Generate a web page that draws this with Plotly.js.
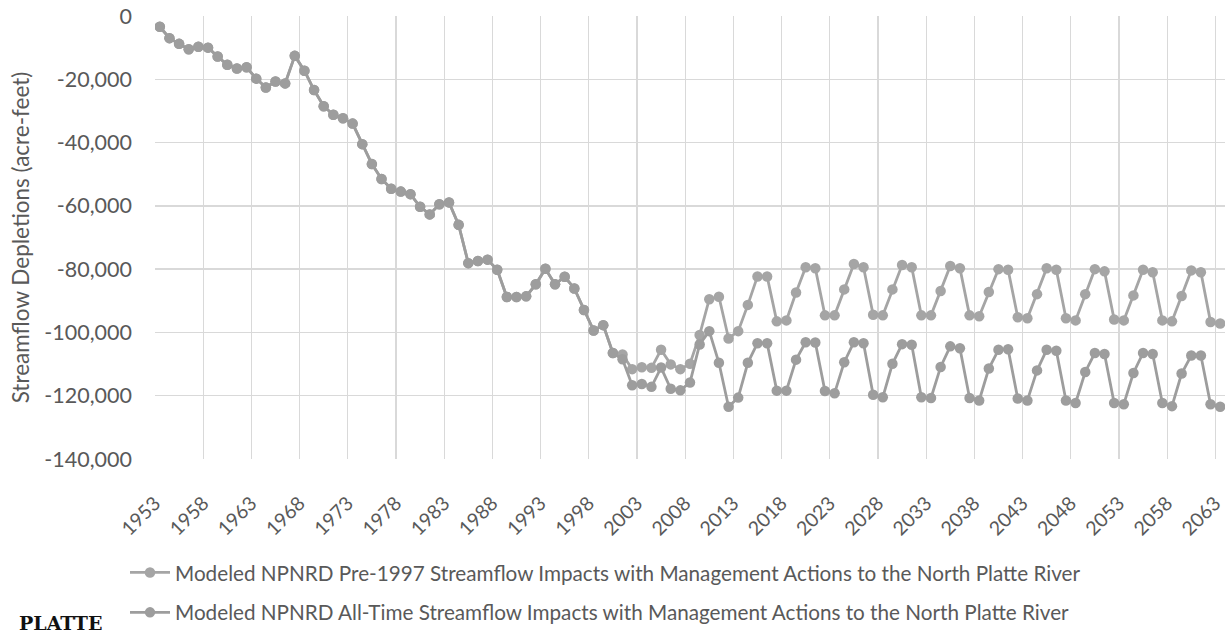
<!DOCTYPE html>
<html>
<head>
<meta charset="utf-8">
<script src="https://cdn.plot.ly/plotly-3.0.1.min.js"></script>
<style>
  html, body { margin: 0; padding: 0; background: #ffffff; }
  #chart { width: 1226px; height: 637px; }
</style>
</head>
<body>
<div id="chart"></div>
<script>
const years = [];
for (let y = 1953; y <= 2063; y++) years.push(y);

const pre1997Impacts = [
  -3400, -7000, -8800, -10500, -9700, -10000, -12800, -15400, -16600, -16200,
  -19800, -22600, -20700, -21300, -12600, -17300, -23400, -28500, -31200, -32300,
  -34000, -40500, -46800, -51500, -54600, -55500, -56300, -60300, -62700, -59500,
  -58900, -66000, -78100, -77400, -77000, -80200, -88800, -88800, -88600, -84800,
  -79900, -84800, -82400, -86100, -92900, -99400, -97700, -106500, -107000, -111600,
  -111000, -111200, -105500, -110100, -111600, -109900, -100800, -89500, -88700, -101900,
  -99600, -91300, -82300, -82300, -96500, -96200, -87400, -79400, -79700, -94600,
  -94600, -86400, -78400, -79400, -94400, -94600, -86400, -78700, -79400, -94600,
  -94600, -86900, -79000, -79700, -94600, -94900, -87200, -80000, -80200, -95200,
  -95500, -87900, -79700, -80200, -95500, -96200, -87900, -80000, -80700, -95900,
  -96200, -88300, -80200, -81000, -96200, -96500, -88500, -80400, -81000, -96700,
  -97200
];

const allTimeImpacts = [
  -3400, -7000, -8800, -10500, -9700, -10000, -12800, -15400, -16600, -16200,
  -19800, -22600, -20700, -21300, -12600, -17300, -23400, -28500, -31200, -32300,
  -34000, -40500, -46800, -51500, -54600, -55500, -56300, -60300, -62700, -59500,
  -58900, -66000, -78100, -77400, -77000, -80200, -88800, -88800, -88600, -84800,
  -79900, -84800, -82400, -86100, -92900, -99400, -97700, -106500, -108500, -116700,
  -116300, -117200, -111100, -117800, -118300, -115800, -103800, -99600, -109600, -123500,
  -120600, -109600, -103400, -103400, -118400, -118400, -108600, -103100, -103200, -118500,
  -119200, -109400, -103100, -103400, -119700, -120500, -109900, -103700, -103900, -120500,
  -120700, -110900, -104400, -105000, -120700, -121500, -111400, -105500, -105300, -120900,
  -121500, -112000, -105500, -105800, -121500, -122300, -112500, -106500, -106800, -122300,
  -122700, -112800, -106500, -106800, -122300, -123300, -113000, -107300, -107300, -122700,
  -123500
];

const seriesNames = [
  'Modeled NPNRD Pre-1997 Streamflow Impacts with Management Actions to the North Platte River',
  'Modeled NPNRD All-Time Streamflow Impacts with Management Actions to the North Platte River'
];

const yTickValues = [0, -20000, -40000, -60000, -80000, -100000, -120000, -140000];
const yTickLabels = ['0', '-20,000', '-40,000', '-60,000', '-80,000', '-100,000', '-120,000', '-140,000'];

const FONT = 'Lato, "Open Sans", sans-serif';
const TXT = '#595959';

const traces = [
  {
    x: years, y: pre1997Impacts, name: seriesNames[0], type: 'scatter', mode: 'lines+markers',
    line: { color: '#a5a5a5', width: 2.8 },
    marker: { color: '#a5a5a5', size: 10.5 },
    legendgroup: 'g1'
  },
  {
    x: years, y: allTimeImpacts, name: seriesNames[1], type: 'scatter', mode: 'lines+markers',
    line: { color: '#9d9d9d', width: 2.8 },
    marker: { color: '#9d9d9d', size: 10.5 },
    legendgroup: 'g2'
  }
];

const layout = {
  width: 1226, height: 637,
  paper_bgcolor: '#ffffff', plot_bgcolor: '#ffffff',
  margin: { l: 155, r: 1, t: 16, b: 178 },
  font: { family: FONT, size: 21, color: TXT },
  showlegend: true,
  legend: {
    orientation: 'v', x: (125 - 155) / 1070, xanchor: 'left', y: -0.211, yanchor: 'top',
    traceorder: 'grouped', tracegroupgap: 10, itemwidth: 40,
    font: { family: FONT, size: 20.7, color: TXT },
    bgcolor: 'rgba(0,0,0,0)'
  },
  xaxis: {
    type: 'linear', range: [1952.5, 2063.5],
    tickmode: 'linear', tick0: 1953, dtick: 5, tickangle: -45,
    showgrid: false, zeroline: false, showline: false, ticks: '',
    ticklabelstandoff: 28, ticklabelshift: -5, ticklabeloverflow: 'allow',
    tickfont: { family: FONT, size: 19.5, color: TXT },
    minor: { tickmode: 'linear', tick0: 1952.5, dtick: 5, showgrid: true, gridcolor: '#d9d9d9', gridwidth: 1.3, ticks: '' }
  },
  yaxis: {
    range: [-140000, 0], tickmode: 'array', tickvals: yTickValues, ticktext: yTickLabels,
    showgrid: true, gridcolor: '#d9d9d9', gridwidth: 1.3, zeroline: false, showline: false, ticks: '',
    tickfont: { family: FONT, size: 21.5, color: TXT },
    ticklabelstandoff: 22,
    title: { text: 'Streamflow Depletions (acre-feet)', font: { family: FONT, size: 22.5, color: TXT }, standoff: 8 }
  },
  annotations: [
    {
      text: '<b>PLATTE</b>', xref: 'paper', yref: 'paper',
      x: (104 - 155) / 1070, xanchor: 'right',
      y: (459 - 610) / 443, yanchor: 'top',
      showarrow: false,
      font: { family: '"DejaVu Serif", "Liberation Serif", serif', size: 19, color: '#111111' }
    }
  ]
};

Plotly.newPlot('chart', traces, layout, { displayModeBar: false, staticPlot: true });
</script>
</body>
</html>
